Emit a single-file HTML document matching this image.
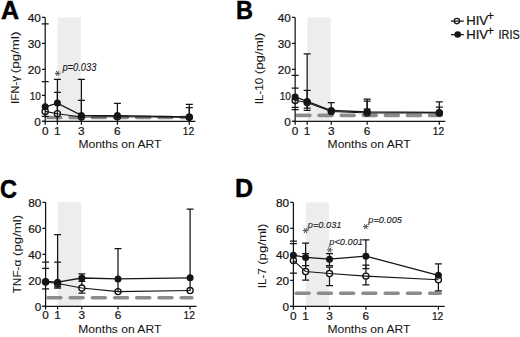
<!DOCTYPE html>
<html><head><meta charset="utf-8"><style>
html,body{margin:0;padding:0;background:#fff;}
body{width:520px;height:337px;overflow:hidden;}
svg{display:block;}
text{font-family:"Liberation Sans",sans-serif;fill:#151515;stroke:#151515;stroke-width:0.22px;}
.tl{font-size:11.8px;}
.ti{font-size:11.4px;stroke-width:0.05px;}
.pl{font-size:25px;font-weight:bold;fill:#000;stroke:#000;stroke-width:0.5px;}
.pv{font-size:9.7px;font-style:italic;stroke-width:0.1px;}
.ast{font-size:10px;}
.lg{font-size:12.3px;}
.sup{font-size:12px;}
</style></head><body>
<svg width="520" height="337" viewBox="0 0 520 337">
<rect width="520" height="337" fill="#fff"/>
<rect x="57.5" y="17.45" width="23.3" height="104" fill="#ededed"/>
<line x1="47.9" y1="117.5" x2="191.1" y2="117.5" stroke="#8c8c8c" stroke-width="3.6" stroke-linecap="round" stroke-dasharray="12.9 9.3"/>
<path d="M45.2 17.45V121.45M42 121.45H195.4" stroke="#151515" stroke-width="1.25" fill="none"/>
<path d="M42 121.45H45.2M42 95.45H45.2M42 69.45H45.2M42 43.45H45.2M42 17.45H45.2M45.2 121.45V124.65M57.4 121.45V124.65M81.4 121.45V124.65M117.4 121.45V124.65M189.3 121.45V124.65" stroke="#151515" stroke-width="1.25" fill="none"/>
<text x="40.9" y="126.35" class="tl" text-anchor="end">0</text>
<text x="40.9" y="100.35" class="tl" text-anchor="end" textLength="11.2" lengthAdjust="spacingAndGlyphs">10</text>
<text x="40.9" y="74.35" class="tl" text-anchor="end">20</text>
<text x="40.9" y="48.35" class="tl" text-anchor="end">30</text>
<text x="40.9" y="22.35" class="tl" text-anchor="end">40</text>
<text x="45.2" y="134.6" class="tl" text-anchor="middle">0</text>
<text x="57.4" y="134.6" class="tl" text-anchor="middle">1</text>
<text x="81.4" y="134.6" class="tl" text-anchor="middle">3</text>
<text x="117.4" y="134.6" class="tl" text-anchor="middle">6</text>
<text x="188.5" y="134.6" class="tl" text-anchor="middle" textLength="11.4" lengthAdjust="spacingAndGlyphs">12</text>
<text x="119.9" y="148.35" class="ti" text-anchor="middle" textLength="83.0" lengthAdjust="spacingAndGlyphs">Months on ART</text>
<text transform="translate(19.3 0) rotate(-90)" x="-103.9" y="0" class="ti" textLength="27.9" lengthAdjust="spacingAndGlyphs">IFN-γ</text>
<text transform="translate(19.3 0) rotate(-90)" x="-31.6" y="0" class="ti" text-anchor="end" textLength="41.6" lengthAdjust="spacingAndGlyphs">(pg/ml)</text>
<text x="1" y="19.4" class="pl">A</text>
<path d="M41.7 81.7H48.7M41.7 116.4H48.7M57.4 92.3V121.45M53.9 92.3H60.9M81.4 100.4V121.45M77.9 100.4H84.9M189.3 107.6V121.45M185.8 107.6H192.8" stroke="#151515" stroke-width="1.25" fill="none"/>
<circle cx="45.2" cy="111.4" r="3.05" fill="#fff" stroke="#151515" stroke-width="1.35"/>
<circle cx="57.4" cy="113.7" r="3.05" fill="#fff" stroke="#151515" stroke-width="1.35"/>
<circle cx="81.4" cy="117" r="3.05" fill="#fff" stroke="#151515" stroke-width="1.35"/>
<circle cx="117.4" cy="116.8" r="3.05" fill="#fff" stroke="#151515" stroke-width="1.35"/>
<circle cx="189.3" cy="117.3" r="3.05" fill="#fff" stroke="#151515" stroke-width="1.35"/>
<polyline points="45.2,111.4 57.4,113.7 81.4,117 117.4,116.8 189.3,117.3" stroke="#151515" stroke-width="1.15" fill="none"/>
<path d="M45.2 107.4V115.4" stroke="#151515" stroke-width="1.25"/>
<path d="M41.7 23.9H48.7M57.4 79.3V121.45M53.9 79.3H60.9M81.4 79.3V121.45M77.9 79.3H84.9M117.4 103.3V121.45M113.9 103.3H120.9M189.3 104.4V121.45M185.8 104.4H192.8" stroke="#151515" stroke-width="1.25" fill="none"/>
<polyline points="45.2,106.8 57.4,103.1 81.4,115.4 117.4,115.6 189.3,116.9" stroke="#151515" stroke-width="1.3" fill="none"/>
<circle cx="45.2" cy="106.8" r="3.5" fill="#151515"/>
<circle cx="57.4" cy="103.1" r="3.5" fill="#151515"/>
<circle cx="81.4" cy="115.4" r="3.5" fill="#151515"/>
<circle cx="117.4" cy="115.6" r="3.5" fill="#151515"/>
<circle cx="189.3" cy="116.9" r="3.5" fill="#151515"/>
<rect x="307.25" y="17.45" width="23.4" height="104" fill="#ededed"/>
<line x1="297" y1="115.4" x2="441.1" y2="115.4" stroke="#8c8c8c" stroke-width="3.6" stroke-linecap="round" stroke-dasharray="12.9 9.2"/>
<path d="M295.15 17.45V121.45M291.95 121.45H445.35" stroke="#151515" stroke-width="1.25" fill="none"/>
<path d="M291.95 121.45H295.15M291.95 95.45H295.15M291.95 69.45H295.15M291.95 43.45H295.15M291.95 17.45H295.15M295.15 121.45V124.65M307.15 121.45V124.65M331.25 121.45V124.65M367.15 121.45V124.65M439.3 121.45V124.65" stroke="#151515" stroke-width="1.25" fill="none"/>
<text x="290.85" y="126.35" class="tl" text-anchor="end">0</text>
<text x="290.85" y="100.35" class="tl" text-anchor="end" textLength="11.2" lengthAdjust="spacingAndGlyphs">10</text>
<text x="290.85" y="74.35" class="tl" text-anchor="end">20</text>
<text x="290.85" y="48.35" class="tl" text-anchor="end">30</text>
<text x="290.85" y="22.35" class="tl" text-anchor="end">40</text>
<text x="295.15" y="134.6" class="tl" text-anchor="middle">0</text>
<text x="307.15" y="134.6" class="tl" text-anchor="middle">1</text>
<text x="331.25" y="134.6" class="tl" text-anchor="middle">3</text>
<text x="367.15" y="134.6" class="tl" text-anchor="middle">6</text>
<text x="438.5" y="134.6" class="tl" text-anchor="middle" textLength="11.4" lengthAdjust="spacingAndGlyphs">12</text>
<text x="369.1" y="148.35" class="ti" text-anchor="middle" textLength="83.0" lengthAdjust="spacingAndGlyphs">Months on ART</text>
<text transform="translate(262.7 0) rotate(-90)" x="-104.2" y="0" class="ti" textLength="26.4" lengthAdjust="spacingAndGlyphs">IL-10</text>
<text transform="translate(262.7 0) rotate(-90)" x="-32.7" y="0" class="ti" text-anchor="end" textLength="41.6" lengthAdjust="spacingAndGlyphs">(pg/ml)</text>
<text x="236" y="19.2" class="pl" textLength="17.0" lengthAdjust="spacingAndGlyphs">B</text>
<path d="M291.65 75.4H298.65M291.65 109.5H298.65M307.15 53.8V108M303.65 53.8H310.65M303.65 108H310.65M367.15 101.2V113M363.65 101.2H370.65M439.3 107.1V113M435.8 107.1H442.8" stroke="#151515" stroke-width="1.25" fill="none"/>
<circle cx="295.15" cy="100.5" r="3.05" fill="#fff" stroke="#151515" stroke-width="1.35"/>
<circle cx="307.15" cy="102.5" r="3.05" fill="#fff" stroke="#151515" stroke-width="1.35"/>
<circle cx="331.25" cy="111.5" r="3.05" fill="#fff" stroke="#151515" stroke-width="1.35"/>
<circle cx="367.15" cy="113" r="3.05" fill="#fff" stroke="#151515" stroke-width="1.35"/>
<circle cx="439.3" cy="113" r="3.05" fill="#fff" stroke="#151515" stroke-width="1.35"/>
<polyline points="295.15,100.5 307.15,102.5 331.25,111.5 367.15,113 439.3,113" stroke="#151515" stroke-width="1.15" fill="none"/>
<path d="M295.15 96.5V104.5" stroke="#151515" stroke-width="1.25"/>
<path d="M291.65 88H298.65M291.65 107.3H298.65M307.15 90.3V110.3M303.65 90.3H310.65M303.65 110.3H310.65M331.25 102.7V110.5M327.75 102.7H334.75M367.15 99V109.2M363.65 99H370.65M363.65 109.2H370.65M439.3 101.8V112.4M435.8 101.8H442.8" stroke="#151515" stroke-width="1.25" fill="none"/>
<polyline points="295.15,96.9 307.15,101.4 331.25,110.5 367.15,111.8 439.3,112.4" stroke="#151515" stroke-width="1.3" fill="none"/>
<circle cx="295.15" cy="96.9" r="3.5" fill="#151515"/>
<circle cx="307.15" cy="101.4" r="3.5" fill="#151515"/>
<circle cx="331.25" cy="110.5" r="3.5" fill="#151515"/>
<circle cx="367.15" cy="111.8" r="3.5" fill="#151515"/>
<circle cx="439.3" cy="112.4" r="3.5" fill="#151515"/>
<rect x="57.7" y="202.3" width="23.55" height="104" fill="#ededed"/>
<line x1="48" y1="297.8" x2="191.9" y2="297.8" stroke="#8c8c8c" stroke-width="3.6" stroke-linecap="round" stroke-dasharray="12.9 9.3"/>
<path d="M45.6 202.3V306.3M42.4 306.3H196.5" stroke="#151515" stroke-width="1.25" fill="none"/>
<path d="M42.4 306.3H45.6M42.4 280.3H45.6M42.4 254.3H45.6M42.4 228.3H45.6M42.4 202.3H45.6M45.6 306.3V309.5M57.6 306.3V309.5M81.85 306.3V309.5M118 306.3V309.5M190.1 306.3V309.5" stroke="#151515" stroke-width="1.25" fill="none"/>
<text x="41.3" y="311.2" class="tl" text-anchor="end">0</text>
<text x="41.3" y="285.2" class="tl" text-anchor="end">20</text>
<text x="41.3" y="259.2" class="tl" text-anchor="end">40</text>
<text x="41.3" y="233.2" class="tl" text-anchor="end">60</text>
<text x="41.3" y="207.2" class="tl" text-anchor="end">80</text>
<text x="45.6" y="319.45" class="tl" text-anchor="middle">0</text>
<text x="57.6" y="319.45" class="tl" text-anchor="middle">1</text>
<text x="81.85" y="319.45" class="tl" text-anchor="middle">3</text>
<text x="118" y="319.45" class="tl" text-anchor="middle">6</text>
<text x="189.3" y="319.45" class="tl" text-anchor="middle" textLength="11.4" lengthAdjust="spacingAndGlyphs">12</text>
<text x="119.8" y="333.2" class="ti" text-anchor="middle" textLength="83.0" lengthAdjust="spacingAndGlyphs">Months on ART</text>
<text transform="translate(20.6 0) rotate(-90)" x="-293.4" y="0" class="ti" textLength="33.8" lengthAdjust="spacingAndGlyphs">TNF-α</text>
<text transform="translate(20.6 0) rotate(-90)" x="-214.8" y="0" class="ti" text-anchor="end" textLength="41.2" lengthAdjust="spacingAndGlyphs">(pg/ml)</text>
<text x="0" y="197.9" class="pl" textLength="17.0" lengthAdjust="spacingAndGlyphs">C</text>
<path d="M42.1 268.4H49.1M57.6 262V286.9M54.1 262H61.1M54.1 286.9H61.1M81.85 281.3V293M78.35 293H85.35" stroke="#151515" stroke-width="1.25" fill="none"/>
<circle cx="45.6" cy="282" r="3.05" fill="#fff" stroke="#151515" stroke-width="1.35"/>
<circle cx="57.6" cy="283.5" r="3.05" fill="#fff" stroke="#151515" stroke-width="1.35"/>
<circle cx="81.85" cy="288" r="3.05" fill="#fff" stroke="#151515" stroke-width="1.35"/>
<circle cx="118" cy="291.6" r="3.05" fill="#fff" stroke="#151515" stroke-width="1.35"/>
<circle cx="190.1" cy="290.5" r="3.05" fill="#fff" stroke="#151515" stroke-width="1.35"/>
<polyline points="45.6,282 57.6,283.5 81.85,288 118,291.6 190.1,290.5" stroke="#151515" stroke-width="1.15" fill="none"/>
<path d="M45.6 278V286" stroke="#151515" stroke-width="1.25"/>
<path d="M42.1 262H49.1M42.1 288.8H49.1M57.6 234.7V288M54.1 234.7H61.1M54.1 288H61.1M81.85 273.8V281.3M78.35 273.8H85.35M78.35 281.3H85.35M118 248.7V291.6M114.5 248.7H121.5M190.1 209.1V291M186.6 209.1H193.6" stroke="#151515" stroke-width="1.25" fill="none"/>
<polyline points="45.6,281.4 57.6,282.2 81.85,278 118,278.9 190.1,277.8" stroke="#151515" stroke-width="1.3" fill="none"/>
<circle cx="45.6" cy="281.4" r="3.5" fill="#151515"/>
<circle cx="57.6" cy="282.2" r="3.5" fill="#151515"/>
<circle cx="81.85" cy="278" r="3.5" fill="#151515"/>
<circle cx="118" cy="278.9" r="3.5" fill="#151515"/>
<circle cx="190.1" cy="277.8" r="3.5" fill="#151515"/>
<rect x="305.7" y="202.45" width="23.2" height="104" fill="#ededed"/>
<line x1="296.2" y1="293.3" x2="440.2" y2="293.3" stroke="#8c8c8c" stroke-width="3.6" stroke-linecap="round" stroke-dasharray="12.9 9.35"/>
<path d="M293.4 202.45V306.45M290.2 306.45H444.7" stroke="#151515" stroke-width="1.25" fill="none"/>
<path d="M290.2 306.45H293.4M290.2 280.45H293.4M290.2 254.45H293.4M290.2 228.45H293.4M290.2 202.45H293.4M293.4 306.45V309.65M305.6 306.45V309.65M329.5 306.45V309.65M365.9 306.45V309.65M438.4 306.45V309.65" stroke="#151515" stroke-width="1.25" fill="none"/>
<text x="289.1" y="311.35" class="tl" text-anchor="end">0</text>
<text x="289.1" y="285.35" class="tl" text-anchor="end">20</text>
<text x="289.1" y="259.35" class="tl" text-anchor="end">40</text>
<text x="289.1" y="233.35" class="tl" text-anchor="end">60</text>
<text x="289.1" y="207.35" class="tl" text-anchor="end">80</text>
<text x="293.4" y="319.6" class="tl" text-anchor="middle">0</text>
<text x="305.6" y="319.6" class="tl" text-anchor="middle">1</text>
<text x="329.5" y="319.6" class="tl" text-anchor="middle">3</text>
<text x="365.9" y="319.6" class="tl" text-anchor="middle">6</text>
<text x="437.6" y="319.6" class="tl" text-anchor="middle" textLength="11.4" lengthAdjust="spacingAndGlyphs">12</text>
<text x="368.9" y="333.35" class="ti" text-anchor="middle" textLength="83.0" lengthAdjust="spacingAndGlyphs">Months on ART</text>
<text transform="translate(265.8 0) rotate(-90)" x="-288.2" y="0" class="ti" textLength="20" lengthAdjust="spacingAndGlyphs">IL-7</text>
<text transform="translate(265.8 0) rotate(-90)" x="-223.6" y="0" class="ti" text-anchor="end" textLength="41.2" lengthAdjust="spacingAndGlyphs">(pg/ml)</text>
<text x="235" y="196.6" class="pl">D</text>
<path d="M289.9 243.6H296.9M289.9 273H296.9M305.6 253.7V280.2M302.1 253.7H309.1M302.1 280.2H309.1M329.5 267V285.6M326 267H333M326 285.6H333M365.9 265V284.9M362.4 265H369.4M362.4 284.9H369.4M438.4 276V290.8M434.9 290.8H441.9" stroke="#151515" stroke-width="1.25" fill="none"/>
<circle cx="293.4" cy="260.4" r="3.05" fill="#fff" stroke="#151515" stroke-width="1.35"/>
<circle cx="305.6" cy="271.5" r="3.05" fill="#fff" stroke="#151515" stroke-width="1.35"/>
<circle cx="329.5" cy="273.5" r="3.05" fill="#fff" stroke="#151515" stroke-width="1.35"/>
<circle cx="365.9" cy="276.1" r="3.05" fill="#fff" stroke="#151515" stroke-width="1.35"/>
<circle cx="438.4" cy="279.8" r="3.05" fill="#fff" stroke="#151515" stroke-width="1.35"/>
<polyline points="293.4,260.4 305.6,271.5 329.5,273.5 365.9,276.1 438.4,279.8" stroke="#151515" stroke-width="1.15" fill="none"/>
<path d="M293.4 256.4V264.4" stroke="#151515" stroke-width="1.25"/>
<path d="M289.9 241.1H296.9M305.6 243.1V265.6M302.1 243.1H309.1M302.1 265.6H309.1M329.5 253.7V265.6M326 253.7H333M326 265.6H333M365.9 239.8V268.5M362.4 239.8H369.4M362.4 268.5H369.4M438.4 263.9V276M434.9 263.9H441.9" stroke="#151515" stroke-width="1.25" fill="none"/>
<polyline points="293.4,255.2 305.6,257.4 329.5,259.2 365.9,256.2 438.4,275.3" stroke="#151515" stroke-width="1.3" fill="none"/>
<circle cx="293.4" cy="255.2" r="3.5" fill="#151515"/>
<circle cx="305.6" cy="257.4" r="3.5" fill="#151515"/>
<circle cx="329.5" cy="259.2" r="3.5" fill="#151515"/>
<circle cx="365.9" cy="256.2" r="3.5" fill="#151515"/>
<circle cx="438.4" cy="275.3" r="3.5" fill="#151515"/>
<path d="M55.1 73.4L60.1 73.4M56.35 71.23L58.85 75.57M58.85 71.23L56.35 75.57" stroke="#444" stroke-width="0.95" stroke-linecap="round"/>
<text x="62.4" y="70.5" class="pv" style="font-size:10.3px" textLength="34.0" lengthAdjust="spacingAndGlyphs">p=0.033</text>
<path d="M303 230.6L308 230.6M304.25 228.43L306.75 232.77M306.75 228.43L304.25 232.77" stroke="#444" stroke-width="0.95" stroke-linecap="round"/>
<text x="307.8" y="227.7" class="pv" style="font-size:9.7px" textLength="33.6" lengthAdjust="spacingAndGlyphs">p=0.031</text>
<path d="M327.2 249.9L332.2 249.9M328.45 247.73L330.95 252.07M330.95 247.73L328.45 252.07" stroke="#444" stroke-width="0.95" stroke-linecap="round"/>
<text x="329.3" y="244.7" class="pv" style="font-size:9.7px" textLength="33.6" lengthAdjust="spacingAndGlyphs">p&lt;0.001</text>
<path d="M363.2 226.6L368.2 226.6M364.45 224.43L366.95 228.77M366.95 224.43L364.45 228.77" stroke="#444" stroke-width="0.95" stroke-linecap="round"/>
<text x="368.3" y="222.8" class="pv" style="font-size:9.7px" textLength="33.6" lengthAdjust="spacingAndGlyphs">p=0.005</text>
<path d="M450.8 21.1H463.8M451 34.6H463.8" stroke="#151515" stroke-width="1.25"/>
<circle cx="456.9" cy="21.1" r="2.65" fill="none" stroke="#151515" stroke-width="1.25"/>
<circle cx="457.7" cy="34.5" r="3.3" fill="#151515"/>
<text x="466.2" y="24.9" class="lg" textLength="21.8" lengthAdjust="spacingAndGlyphs">HIV</text><text x="487.1" y="20.3" class="sup">+</text>
<text x="466.2" y="38.6" class="lg" textLength="21.8" lengthAdjust="spacingAndGlyphs">HIV</text><text x="487.1" y="34.7" class="sup">+</text><text x="498.6" y="38.6" class="lg" textLength="21" lengthAdjust="spacingAndGlyphs">IRIS</text>
</svg>
</body></html>
